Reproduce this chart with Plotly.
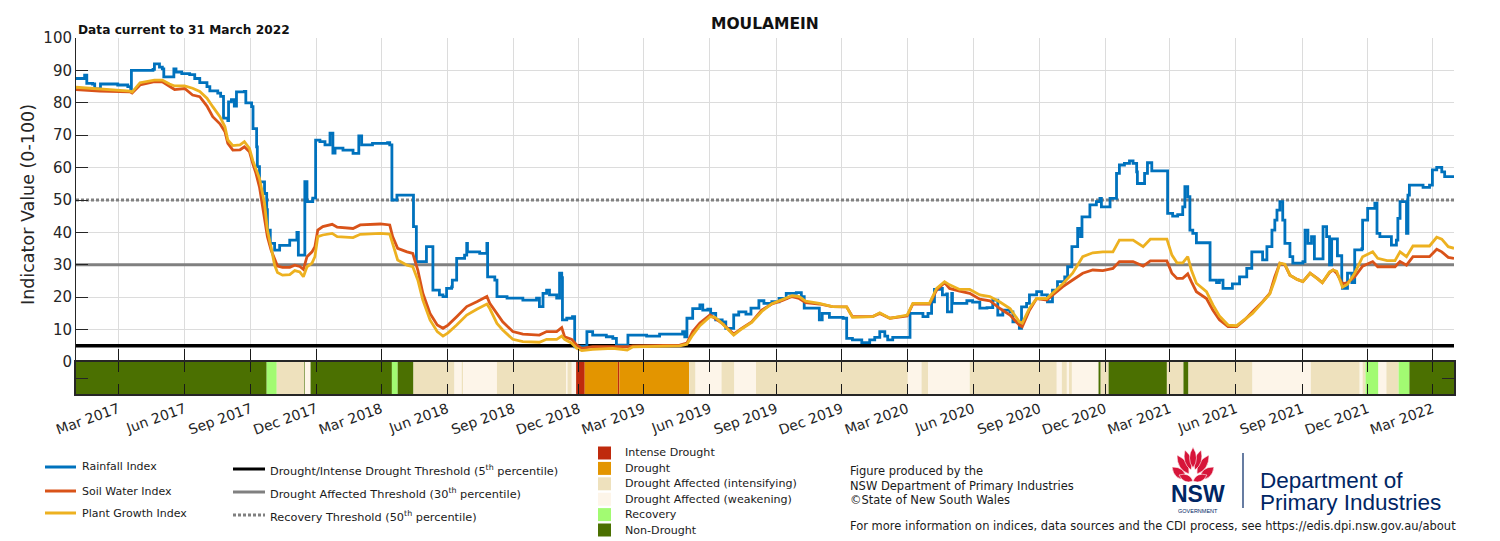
import plotly.graph_objects as go

# ---------------- DATA ----------------
rain_dates = ['2017-01-01','2017-01-10','2017-01-13','2017-01-16','2017-01-24','2017-01-27','2017-02-03','2017-02-04',
 '2017-02-28','2017-03-14','2017-03-18','2017-03-19','2017-04-18','2017-04-20','2017-04-27','2017-05-01','2017-05-03',
 '2017-05-15','2017-05-17','2017-05-20','2017-05-28','2017-06-08','2017-06-15','2017-06-22','2017-07-02','2017-07-06',
 '2017-07-17','2017-07-21','2017-07-25','2017-07-31','2017-08-01','2017-08-05','2017-08-09','2017-08-12','2017-08-23',
 '2017-08-25','2017-08-30','2017-09-02','2017-09-04','2017-09-09','2017-09-10','2017-09-13','2017-09-20','2017-09-23',
 '2017-09-24','2017-09-28','2017-10-04','2017-10-11','2017-10-25','2017-11-04','2017-11-06','2017-11-13','2017-11-15',
 '2017-11-18','2017-11-26','2017-11-30','2017-12-06','2017-12-13','2017-12-20','2017-12-24','2017-12-27','2018-01-07',
 '2018-01-21','2018-01-29','2018-02-02','2018-02-17','2018-03-10','2018-03-13','2018-03-16','2018-03-23','2018-04-14',
 '2018-04-15','2018-04-19','2018-05-01','2018-05-03','2018-05-10','2018-05-12','2018-05-21','2018-05-26','2018-05-31',
 '2018-06-07','2018-06-08','2018-06-14','2018-06-25','2018-06-28','2018-06-29','2018-07-12','2018-07-16','2018-07-26',
 '2018-07-27','2018-08-06','2018-08-09','2018-08-23','2018-09-14','2018-10-03','2018-10-07','2018-10-12','2018-10-17',
 '2018-10-21','2018-10-31','2018-11-04','2018-11-07','2018-11-08','2018-11-14','2018-11-22','2018-11-25','2018-12-02',
 '2018-12-12','2018-12-20','2019-01-08','2019-01-17','2019-01-22','2019-02-03','2019-02-07','2019-03-05','2019-03-23',
 '2019-04-24','2019-04-27','2019-04-30','2019-05-08','2019-05-18','2019-05-22','2019-05-29','2019-06-02','2019-06-09',
 '2019-06-18','2019-06-23','2019-07-04','2019-07-11','2019-07-21','2019-07-28','2019-08-08','2019-08-15','2019-08-26',
 '2019-09-05','2019-09-15','2019-09-29','2019-10-06','2019-10-10','2019-10-28','2019-10-31','2019-11-04','2019-11-14',
 '2019-12-03','2019-12-08','2019-12-16','2019-12-29','2020-01-09','2020-01-16','2020-01-23','2020-01-30','2020-02-03',
 '2020-02-10','2020-03-02','2020-03-05','2020-03-23','2020-03-30','2020-04-04','2020-04-08','2020-04-15','2020-04-19',
 '2020-04-25','2020-04-26','2020-05-02','2020-05-03','2020-05-23','2020-05-31','2020-06-10','2020-06-20','2020-06-28',
 '2020-07-05','2020-07-12','2020-07-22','2020-07-26','2020-08-04','2020-08-07','2020-08-14','2020-08-18','2020-08-28',
 '2020-09-04','2020-09-12','2020-09-19','2020-09-26','2020-10-06','2020-10-10','2020-10-16','2020-10-20','2020-10-24',
 '2020-10-28','2020-10-30','2020-11-10','2020-11-19','2020-11-24','2020-11-26','2020-12-03','2020-12-08','2020-12-14',
 '2020-12-17','2020-12-21','2020-12-28','2021-01-04','2021-01-09','2021-01-14','2021-01-15','2021-01-24','2021-01-25',
 '2021-01-29','2021-02-04','2021-02-25','2021-02-26','2021-03-05','2021-03-12','2021-03-19','2021-03-22','2021-03-26',
 '2021-03-29','2021-04-02','2021-04-07','2021-04-21','2021-04-26','2021-05-05','2021-05-09','2021-05-14','2021-05-21',
 '2021-05-27','2021-06-06','2021-06-16','2021-06-23','2021-07-04','2021-07-08','2021-07-14','2021-07-21','2021-07-25',
 '2021-07-28','2021-08-01','2021-08-05','2021-08-08','2021-08-15','2021-08-19','2021-09-02','2021-09-05','2021-09-09',
 '2021-09-14','2021-09-18','2021-09-25','2021-09-30','2021-10-05','2021-10-09','2021-10-12','2021-10-16','2021-10-20',
 '2021-10-26','2021-10-27','2021-11-03','2021-11-09','2021-11-13','2021-11-23','2021-11-24','2021-12-01','2021-12-11',
 '2021-12-14','2021-12-18','2021-12-28','2022-01-03','2022-01-10','2022-01-12','2022-01-15','2022-01-22','2022-01-24',
 '2022-01-26','2022-01-28','2022-02-16','2022-02-25','2022-03-01','2022-03-07','2022-03-14','2022-03-18','2022-03-31']
rain_vals = [87.5,87.5,88.5,86,85.8,84.3,84.3,85.8,
 85.5,85,84,90,90.3,92,91,90.5,88,
 88,90.5,89.5,89,88.7,87.5,86.2,85,83.7,
 83,82,75.3,74.5,80.3,81,79,83.4,83.5,
 80,80,78.8,72,66.4,60.3,55.6,52,47,
 40.7,36.6,34.5,36,37.6,40,33,33,55.7,
 49.5,50.6,68.5,68,67,70.6,64.5,66,65.4,
 64.4,69.8,67,67.5,67.7,67,50,51.5,51.5,
 41.8,31,31,35.6,35.6,22.2,20.7,20.2,22.7,
 23.2,25.3,32,33,36.6,34,34,33.5,36.6,
 26.3,25.3,20.2,19.7,19.1,19.7,17.1,21.2,22.2,
 20.7,19.7,27.4,26,13,13.5,14,4.7,4.9,
 9.4,8.3,7.8,7.3,5.2,5,8.3,8,8.6,
 9.4,7.8,13.5,16.5,17.6,16,16.3,15,13,
 12.4,10.4,14.5,15.5,14.8,16.6,18.9,18.1,18.6,
 19.6,21.2,21.4,20.2,16.6,16.6,13,15,13.8,
 13.5,7.3,6.8,6,6.8,7.6,9.4,8,6.8,
 7.6,7.6,15,14,15,18.6,22.4,22.7,20.7,
 21,15.5,21.2,18.1,18.9,18.5,16.6,16.8,19.1,
 14.5,16,15.5,12.4,10.4,17,18.1,20.7,21.7,
 20.7,18.6,22.2,24.8,26.3,29.4,35.6,35.6,41.2,
 38.7,44.8,48.5,49.5,50.5,47.9,47.9,50.5,50.5,
 58.2,60.8,61.3,62.1,61.3,58.7,55.1,55.1,58.2,
 61.5,59,59,45.9,45,45.5,47.9,54.1,51,
 40.7,39.7,36.8,36.8,25.3,24.5,25.3,22.7,22.7,
 24.1,26.3,28.9,34,34,31.5,35.6,40.7,43.8,
 46.9,49.5,43.8,36.6,32.5,30.5,31,40.7,36.6,
 38.7,31.8,31.8,41.8,38.7,30,38,38,32.8,
 24.3,22.7,27.4,24.5,34.6,35,43.8,47.4,49,
 39.7,38.7,38.7,36.1,37.6,44.3,49.5,49.5,39.7,
 51.5,54.6,53.9,54.6,59.3,60.1,58.7,57.2,57]

idx_dates = ['2017-01-01','2017-02-03','2017-03-17','2017-03-20','2017-03-31','2017-04-20','2017-05-01','2017-05-11',
 '2017-05-18','2017-06-01','2017-06-12','2017-06-22','2017-07-02','2017-07-10','2017-07-20','2017-07-27','2017-07-31',
 '2017-08-07','2017-08-17','2017-08-23','2017-08-30','2017-09-04','2017-09-08','2017-09-13','2017-09-20','2017-09-24',
 '2017-09-29','2017-10-04','2017-10-08','2017-10-15','2017-10-25','2017-11-01','2017-11-08','2017-11-13','2017-11-18',
 '2017-11-25','2017-11-29','2017-12-03','2017-12-10','2017-12-23','2017-12-30','2018-01-21','2018-01-31','2018-02-28',
 '2018-03-13','2018-03-17','2018-03-24','2018-04-06','2018-04-14','2018-04-21','2018-04-28','2018-05-08','2018-05-18',
 '2018-05-26','2018-06-02','2018-06-14','2018-06-28','2018-07-12','2018-07-26','2018-07-30','2018-08-09','2018-08-17',
 '2018-08-31','2018-09-14','2018-10-07','2018-10-17','2018-10-31','2018-11-07','2018-11-11','2018-11-21','2018-11-28',
 '2018-12-05','2018-12-20','2019-01-17','2019-02-06','2019-02-14','2019-04-20','2019-04-30','2019-05-08','2019-05-18',
 '2019-06-01','2019-06-08','2019-06-18','2019-07-04','2019-07-15','2019-07-29','2019-08-12','2019-08-26','2019-09-09',
 '2019-09-23','2019-10-03','2019-10-12','2019-10-31','2019-11-18','2019-12-08','2019-12-16','2020-01-13','2020-01-23',
 '2020-02-06','2020-03-01','2020-03-09','2020-04-01','2020-04-11','2020-04-22','2020-04-29','2020-05-13','2020-05-27',
 '2020-06-10','2020-06-24','2020-07-08','2020-07-22','2020-08-04','2020-08-08','2020-08-18','2020-08-28','2020-09-11',
 '2020-09-19','2020-10-03','2020-10-17','2020-10-31','2020-11-14','2020-11-28','2020-12-12','2020-12-21','2021-01-09',
 '2021-01-23','2021-02-02','2021-02-25','2021-03-04','2021-03-11','2021-03-19','2021-03-26','2021-03-31','2021-04-07',
 '2021-04-21','2021-04-30','2021-05-09','2021-05-21','2021-06-02','2021-06-13','2021-06-24','2021-07-08','2021-07-18',
 '2021-07-25','2021-08-01','2021-08-08','2021-08-15','2021-08-25','2021-09-02','2021-09-12','2021-09-22','2021-09-29',
 '2021-10-09','2021-10-14','2021-10-19','2021-10-27','2021-11-03','2021-11-13','2021-11-24','2021-12-08','2021-12-15',
 '2021-12-28','2022-01-08','2022-01-15','2022-01-24','2022-02-02','2022-02-25','2022-03-07','2022-03-14','2022-03-23',
 '2022-03-31']
soil_vals = [84.1,83.6,83.4,83,85.5,86.5,86.5,85,
 84.1,84.4,82.4,81.9,79,75.7,73.5,71.1,67.5,
 65.4,65.5,66.4,64.9,61,58.3,54,44.8,38.7,
 34.6,31.5,29.6,29.2,29.2,29.9,29.5,28.6,32.5,
 34,35.6,40.7,41.8,42.5,41.6,41.2,42.3,42.6,
 42.3,38.7,35.1,34,33.5,28.4,21.2,15,11.4,
 10.4,11.4,14,17.1,18.6,20.2,18.1,15,12.4,
 9.4,8.6,8.3,9.4,9.4,10.6,7.8,7,5.2,
 4.2,4.7,4.7,4.7,5,5.2,5.8,9.4,12,
 14.5,13.5,11.9,8.6,10.4,12.4,16,17.9,18.9,
 20.2,19.6,18.3,17.9,17.1,17,14,14,15,
 13.5,14.2,17.9,17.9,22.2,24.5,22.7,21.9,21.2,
 19.4,18.9,16.5,14.5,11.4,10.9,16,19.6,19.1,
 20.7,23.2,25.3,27.4,28.4,28.2,28.9,31,31,
 29.6,31.2,31.2,27.4,25.8,25.8,27.2,24.8,21.7,
 19.6,16,13,10.9,10.9,13,15.5,18.6,21.2,
 26.3,30.5,30,26.8,25.5,24.8,27.4,25.8,24.5,
 27.6,28.4,27.4,24.1,24.5,26.3,29.6,31,29.4,
 29.4,29.4,31,29.9,32.5,32.5,34.8,34,32.3,
 32]
plant_vals = [84.8,84.2,83.6,83.3,86.2,87,87,85.8,
 85.2,85.2,84.5,83.5,81.4,78.8,75.7,72.6,68.5,
 66.8,67,68,65.9,62,59.8,56.7,49,40.7,
 35.6,29.9,27.6,26.8,27,28.2,27.8,26.3,29.4,
 30.5,32.5,38.7,39.2,39.7,38.7,38.4,39.4,39.7,
 39.5,36.6,31.5,29.9,29.4,25.3,19.1,13,9.4,
 8,9,11.4,14.5,16.3,17.9,16.5,11.9,9.9,
 7,6.3,6.1,7,7,8,7,5.8,4.2,
 3.5,3.9,4.2,3.7,4.7,5,5.5,8.3,11.2,
 14,13.8,11.9,8.3,10.2,12.2,15.6,18,19.3,
 20.5,20.2,18.8,18.1,17.1,17,13.8,14,15.2,
 13.5,14.5,18.1,18.1,22.7,24.8,23.8,22.4,22.4,
 20.7,20.2,18.5,16.5,12.4,12,16.6,19.6,19.6,
 21.2,24.1,27.4,32.5,33.7,34,34,37.6,37.6,
 35.6,37.9,37.9,33,30.6,30.6,32.5,28.4,24.3,
 21.7,17.6,14.2,11.4,11.2,13,15,18.5,21,
 25.3,30.5,30.2,26.8,25.5,24.8,27.4,25.8,24.5,
 27.8,28.4,28,23.1,24,27.4,32.5,34,32,
 31.3,31.3,34,32.5,35.8,35.8,38.5,37.9,35.6,
 35.1]

band_starts = ['2017-01-01','2017-09-23','2017-10-07','2017-11-14','2017-11-15','2017-11-23','2018-03-16','2018-03-24',
 '2018-04-15','2018-06-11','2018-06-21','2018-06-23','2018-08-09','2018-11-13','2018-11-15','2018-11-21','2018-11-27',
 '2018-12-09','2019-01-24','2019-01-26','2019-05-03','2019-05-12','2019-06-17','2019-07-05','2019-08-04','2020-03-02',
 '2020-03-21','2020-03-30','2020-05-27','2020-09-25','2020-10-02','2020-10-09','2020-10-12','2020-10-16','2020-11-22',
 '2020-11-25','2020-12-06','2021-02-25','2021-03-20','2021-03-27','2021-06-24','2021-09-13','2021-11-20','2021-11-24',
 '2021-11-28','2021-12-16','2021-12-27','2022-01-13','2022-01-28']
band_states = ['ND','R','I','ND','W','ND','R','ND',
 'I','W','I','W','I','W','I','W','ID',
 'D','ID','D','I','W','I','W','I','W',
 'I','W','I','W','I','W','I','W','ND',
 'I','ND','I','ND','I','W','I','W','I',
 'R','W','I','R','ND']
band_end = '2022-03-31'

x_start, x_end = '2017-01-01', '2022-03-31'
tick_dates = ['2017-03-01','2017-06-01','2017-09-01','2017-12-01','2018-03-01','2018-06-01','2018-09-01','2018-12-01',
 '2019-03-01','2019-06-01','2019-09-01','2019-12-01','2020-03-01','2020-06-01','2020-09-01','2020-12-01',
 '2021-03-01','2021-06-01','2021-09-01','2021-12-01','2022-03-01']
y_ticks = [0, 10, 20, 30, 40, 50, 60, 70, 80, 90, 100]

thr_intense, thr_affected, thr_recovery = 5, 30, 50

state_names = {'ID': 'Intense Drought', 'D': 'Drought', 'I': 'Drought Affected (intensifying)',
               'W': 'Drought Affected (weakening)', 'R': 'Recovery', 'ND': 'Non-Drought'}
state_order = ['ID', 'D', 'I', 'W', 'R', 'ND']
state_colors = {'ID': '#BF2A0D', 'D': '#E39500', 'I': '#EEE1BD', 'W': '#FDF5E9', 'R': '#A2FB72', 'ND': '#4B7001'}

C_RAIN, C_SOIL, C_PLANT = '#0072BD', '#D95319', '#EDB120'
FONT = 'DejaVu Sans'
TXT = '#262626'

# ---------------- GEOMETRY ----------------
W, H = 1500, 541
L, R, T, B = 76, 46, 38, 147
PW, PH = W - L - R, H - T - B
band_frac = 32 / PH


def px(x):
    return (x - L) / PW


def py(y):
    return (H - B - y) / PH


fig = go.Figure()

# threshold lines (drawn below the indices)
fig.add_trace(go.Scatter(x=[x_start, x_end], y=[thr_intense] * 2, mode='lines',
                         line=dict(color='black', width=3.5), showlegend=False, hoverinfo='skip'))
fig.add_trace(go.Scatter(x=[x_start, x_end], y=[thr_affected] * 2, mode='lines',
                         line=dict(color='#808080', width=3), showlegend=False, hoverinfo='skip'))
fig.add_trace(go.Scatter(x=[x_start, x_end], y=[thr_recovery] * 2, mode='lines',
                         line=dict(color='#808080', width=3, dash='3px,2px'), showlegend=False, hoverinfo='skip'))

fig.add_trace(go.Scatter(x=rain_dates, y=rain_vals, mode='lines', name='Rainfall Index',
                         line=dict(color=C_RAIN, width=2.8, shape='hv'), showlegend=False))
fig.add_trace(go.Scatter(x=idx_dates, y=soil_vals, mode='lines', name='Soil Water Index',
                         line=dict(color=C_SOIL, width=2.8), showlegend=False))
fig.add_trace(go.Scatter(x=idx_dates, y=plant_vals, mode='lines', name='Plant Growth Index',
                         line=dict(color=C_PLANT, width=2.8), showlegend=False))

# invisible trace to activate the band axes pair
fig.add_trace(go.Scatter(x=[x_start], y=[-5], mode='markers', marker=dict(opacity=0),
                         xaxis='x2', yaxis='y2', showlegend=False, hoverinfo='skip'))

shapes = []
ends = band_starts[1:] + [band_end]
for s, e, st in zip(band_starts, ends, band_states):
    shapes.append(dict(type='rect', xref='x2', yref='y2', x0=s, x1=e, y0=-10, y1=0,
                       fillcolor=state_colors[st], line=dict(width=0), layer='below'))

annotations = []


def text(x, y, s, size=11.3, anchor='left', bold=False, color='#1a1a1a', family=FONT, angle=0):
    if bold:
        s = '<b>' + s + '</b>'
    annotations.append(dict(x=px(x), y=py(y), xref='paper', yref='paper', text=s, showarrow=False,
                            xanchor=anchor, yanchor='middle', textangle=angle,
                            font=dict(family=family, size=size, color=color)))


# titles
text(765, 24, 'MOULAMEIN', size=15.5, anchor='center', bold=True, color='#111')
text(76, 30, 'Data current to 31 March 2022', size=12.2, bold=True, color='#111')
text(28, 205, 'Indicator Value (0-100)', size=17.5, anchor='center', color=TXT, angle=-90)

# index legend
for yy, col, lab in [(467, C_RAIN, 'Rainfall Index'), (491, C_SOIL, 'Soil Water Index'),
                     (513, C_PLANT, 'Plant Growth Index')]:
    shapes.append(dict(type='line', xref='paper', yref='paper', x0=px(45), x1=px(76), y0=py(yy), y1=py(yy),
                       line=dict(color=col, width=3)))
    text(80, yy, lab, size=11)

for yy, col, dash, lab in [(469, 'black', 'solid', 'Drought/Intense Drought Threshold (5<sup>th</sup> percentile)'),
                           (492, '#808080', 'solid', 'Drought Affected Threshold (30<sup>th</sup> percentile)'),
                           (515, '#808080', '3px,2px', 'Recovery Threshold (50<sup>th</sup> percentile)')]:
    shapes.append(dict(type='line', xref='paper', yref='paper', x0=px(233), x1=px(265), y0=py(yy), y1=py(yy),
                       line=dict(color=col, width=3, dash=dash)))
    text(268, yy + 1, lab, size=11.3)

# drought state legend
for i, st in enumerate(state_order):
    yy = 453 + i * 15.4
    shapes.append(dict(type='rect', xref='paper', yref='paper', x0=px(598), x1=px(611),
                       y0=py(yy + 6.5), y1=py(yy - 6.5), fillcolor=state_colors[st], line=dict(width=0)))
    text(623, yy, state_names[st], size=11.1)

# info text
text(848, 471, 'Figure produced by the', size=11.5)
text(848, 486, 'NSW Department of Primary Industries', size=11.5)
text(848, 500, '\u00a9State of New South Wales', size=11.5)
text(848, 526, 'For more information on indices, data sources and the CDI process, see https://edis.dpi.nsw.gov.au/about',
     size=11.5)

# NSW logo
RED = '#D7153A'
NAVY = '#002664'
petals = [((1186, 479), (1172, 467), 9), ((1200, 479), (1214, 467), 9),
          ((1189, 474), (1177, 455), 8), ((1197, 474), (1209, 455), 8),
          ((1191, 470), (1185, 450), 7), ((1195, 470), (1201, 450), 7),
          ((1193, 468), (1193, 447), 7), ((1193, 481), (1179, 475), 7), ((1193, 481), (1207, 475), 7)]
for (bx, by), (tx, ty), w in petals:
    dx, dy = tx - bx, ty - by
    ln = (dx * dx + dy * dy) ** 0.5
    nx, ny = -dy / ln, dx / ln
    mx, my = bx + dx * 0.45, by + dy * 0.45
    c1 = (mx + nx * w, my + ny * w)
    c2 = (mx - nx * w, my - ny * w)
    path = 'M {} {} Q {} {} {} {} Q {} {} {} {} Z'.format(
        px(bx), py(by), px(c1[0]), py(c1[1]), px(tx), py(ty), px(c2[0]), py(c2[1]), px(bx), py(by))
    shapes.append(dict(type='path', xref='paper', yref='paper', path=path, fillcolor=RED,
                       line=dict(color='white', width=0.6)))
text(1198, 494, 'NSW', size=23, anchor='center', bold=True, color=NAVY, family='Liberation Sans')
text(1198, 511, 'GOVERNMENT', size=5.5, anchor='center', color=NAVY, family='Liberation Sans')
shapes.append(dict(type='line', xref='paper', yref='paper', x0=px(1243), x1=px(1243), y0=py(453), y1=py(508),
                   line=dict(color=NAVY, width=1.2)))
text(1258, 481, 'Department of', size=22.5, color=NAVY, family='Liberation Sans')
text(1258, 503, 'Primary Industries', size=22.5, color=NAVY, family='Liberation Sans')

fig.update_layout(
    width=W, height=H, margin=dict(l=L, r=R, t=T, b=B, pad=0),
    paper_bgcolor='white', plot_bgcolor='white', showlegend=False,
    font=dict(family=FONT, color=TXT),
    shapes=shapes, annotations=annotations,
    xaxis=dict(domain=[0, 1], anchor='y', type='date', range=[x_start, x_end], tickvals=tick_dates,
               ticks='inside', ticklen=13, tickwidth=1.2, tickcolor='#1a1a1a', showticklabels=False,
               showgrid=True, gridcolor='#dcdcdc', gridwidth=1, showline=False, zeroline=False),
    yaxis=dict(domain=[band_frac, 1], anchor='x', range=[0, 100], tickvals=y_ticks,
               ticks='inside', ticklen=12, tickcolor='#262626', showline=True, linecolor='#262626', linewidth=1,
               showgrid=True, gridcolor='#dcdcdc', gridwidth=1, zeroline=False,
               tickfont=dict(family=FONT, size=15, color=TXT)),
    xaxis2=dict(domain=[0, 1], anchor='y2', type='date', matches='x', range=[x_start, x_end], tickvals=tick_dates,
                tickformat='%b %Y', tickangle=-20, ticks='inside', ticklen=10, tickwidth=1.2, tickcolor='#1a1a1a',
                mirror='ticks', showline=True, linecolor='#262626', linewidth=1.5, showgrid=False, zeroline=False,
                tickfont=dict(family=FONT, size=14, color=TXT)),
    yaxis2=dict(domain=[0, band_frac], anchor='x2', range=[-10, 0], tickvals=[-5], showticklabels=False,
                ticks='inside', ticklen=12, tickcolor='#262626', mirror='ticks', showline=True,
                linecolor='#262626', linewidth=1.5, showgrid=False, zeroline=False),
)

fig.write_html('out.html')
